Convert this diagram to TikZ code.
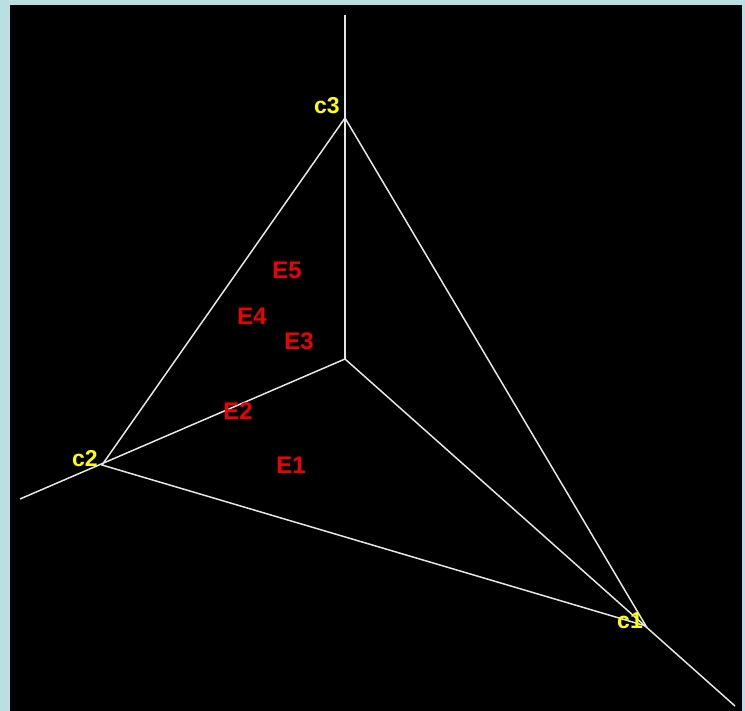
\documentclass[tikz,border=0pt]{standalone}
\usepackage{fontspec}
\setmainfont{Liberation Sans}
\definecolor{frameblue}{HTML}{B9DFE3}
\definecolor{axisgray}{HTML}{E6E6E6}
\definecolor{cornyel}{HTML}{FFFF00}
\definecolor{ptred}{HTML}{F00000}
\tikzset{
  % assi e lati del triangolo
  axisline/.style={line width=1.5pt, axisgray},
  edge/.style={line width=1.5pt, axisgray},
  % etichette dei vertici
  corner/.style={font=\fontsize{23}{25}\selectfont\bfseries, text=cornyel, inner sep=0pt},
  % etichette dei punti
  ptlbl/.style={font=\fontsize{24}{26}\selectfont\bfseries, text=ptred, inner sep=0pt},
}
\begin{document}
\begin{tikzpicture}[x=1pt, y=-1pt]
  \useasboundingbox (0,0) rectangle (745,711);
  \fill[frameblue] (0,0) rectangle (745,711);
  \fill[black] (10,5) rectangle (742,711);
  % origine, vertici e estremi degli assi
  \coordinate (o) at (345,359);
  \coordinate (c1) at (646,626);
  \coordinate (c2) at (102,465);
  \coordinate (c3) at (345,118);
  \coordinate (xend) at (735,706);
  \coordinate (yend) at (20,499);
  \coordinate (zend) at (345,15);
  \draw[axisline] (o) -- (xend);
  \draw[axisline] (o) -- (yend);
  \draw[axisline] (o) -- (zend);
  \draw[edge] (c1) -- (c2) -- (c3) -- cycle;
  \node[corner] (l1) at (630,621) {c1};
  \node[corner] (l2) at (85,459) {c2};
  \node[corner] (l3) at (327,106) {c3};
  \node[ptlbl] (e1) at (291,465) {E1};
  \node[ptlbl] (e2) at (238,411) {E2};
  \node[ptlbl] (e3) at (299,341) {E3};
  \node[ptlbl] (e4) at (252,316) {E4};
  \node[ptlbl] (e5) at (287,270) {E5};
\end{tikzpicture}
\end{document}
